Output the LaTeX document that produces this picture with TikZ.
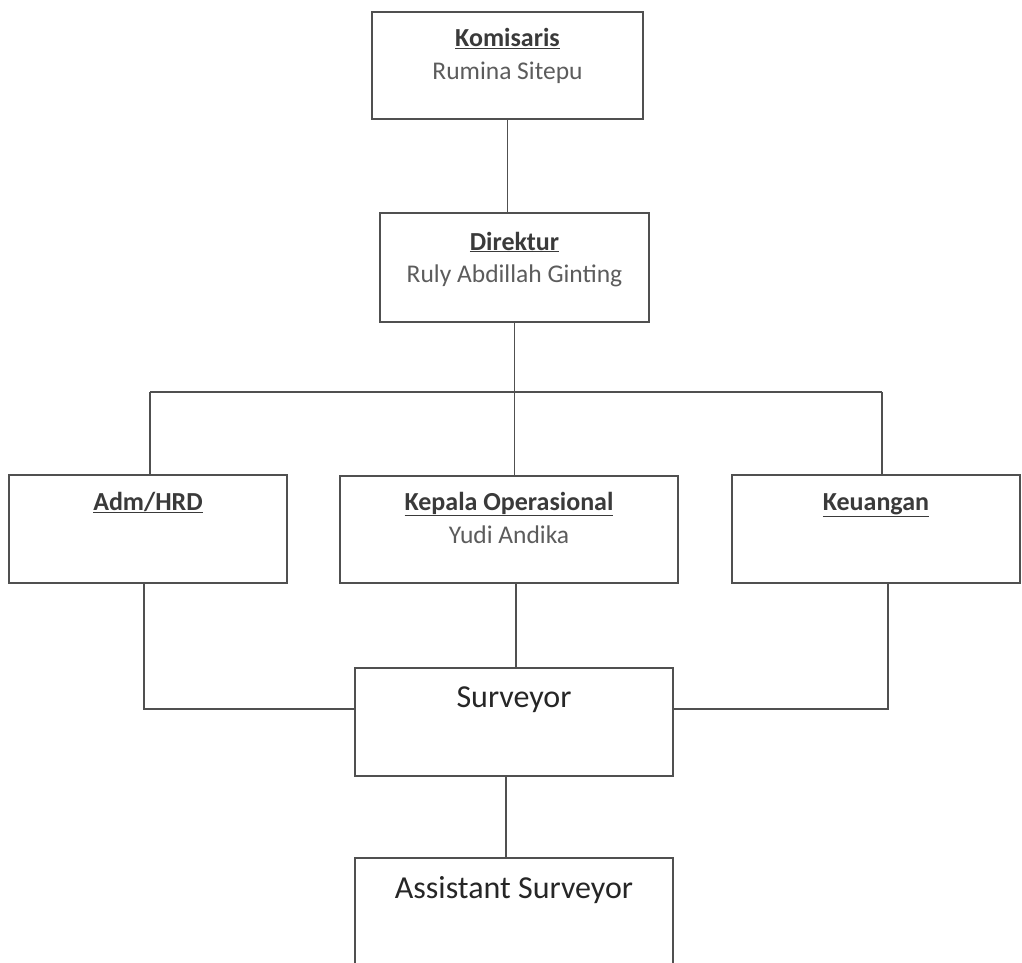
\documentclass[tikz,border=0pt]{standalone}
\usepackage{fontspec}
\setmainfont{Carlito}
\usetikzlibrary{calc}
\definecolor{linec}{HTML}{505050}
\definecolor{titlec}{HTML}{3A3A3A}
\definecolor{namec}{HTML}{5C5C5C}
\definecolor{bigc}{HTML}{262626}
\tikzset{
  box/.style={draw=linec, line width=1.6pt, fill=white, inner sep=0pt},
  conn/.style={draw=linec, line width=1.6pt},
  ttl/.style={anchor=base, text=titlec, inner sep=0pt, font=\fontsize{26}{30}\selectfont},
  nm/.style={anchor=base, text=namec, inner sep=0pt, font=\fontsize{25.5}{30}\selectfont},
  big/.style={anchor=base, text=bigc, inner sep=0pt, font=\fontsize{32}{38}\selectfont}
}
\begin{document}
\begin{tikzpicture}[x=1pt,y=-1pt]
\clip (0,0) rectangle (1022,963);
\fill[white] (0,0) rectangle (1022,963);
% boxes
\node[box, minimum width=271pt, minimum height=107pt] (kom) at (507.5,65.5) {};
\node[box, minimum width=269pt, minimum height=109pt] (dir) at (514.5,267.5) {};
\node[box, minimum width=278pt, minimum height=108pt] (adm) at (148,529) {};
\node[box, minimum width=338pt, minimum height=107pt] (kep) at (509,529.5) {};
\node[box, minimum width=288pt, minimum height=108pt] (keu) at (876,529) {};
\node[box, minimum width=318pt, minimum height=108pt] (sur) at (514,722) {};
\node[box, minimum width=318pt, minimum height=130pt] (ass) at (514,923) {};
% helper coordinates
\coordinate (busL) at (150,392);
\coordinate (busR) at (882,392);
\coordinate (admB) at (144,583);
\coordinate (keuB) at (888,583);
\coordinate (surL) at (355,709);
\coordinate (surR) at (673,709);
\coordinate (surT) at (516,668);
\coordinate (surB) at (506,776);
% connectors
\draw[conn] (kom.south) -- (kom.south |- dir.north);
\draw[conn] (dir.south) -- (dir.south |- kep.north);
\draw[conn] (busL) -- (busR);
\draw[conn] (busL) -- (busL |- adm.north);
\draw[conn] (busR) -- (busR |- keu.north);
\draw[conn] (kep.south -| surT) -- (surT);
\draw[conn] (admB) |- (surL);
\draw[conn] (keuB) |- (surR);
\draw[conn] (surB) -- (surB |- ass.north);
% texts
\node[ttl] (komT) at (507.5,47) {\underline{\textbf{Komisaris}}};
\node[nm] (komN) at (507.5,80) {Rumina Sitepu};
\node[ttl] (dirT) at (514.5,250) {\underline{\textbf{Direktur}}};
\node[nm] (dirN) at (514.5,282) {Ruly Abdillah Ginting};
\node[ttl] (admT) at (148,510) {\underline{\textbf{Adm/HRD}}};
\node[ttl] (kepT) at (509,510) {\underline{\textbf{Kepala Operasional}}};
\node[nm] (kepN) at (509,543) {Yudi Andika};
\node[ttl] (keuT) at (876,510) {\underline{\textbf{Keuangan}}};
\node[big] (surT2) at (514,707) {Surveyor};
\node[big] (assT) at (514,898) {Assistant Surveyor};
\end{tikzpicture}
\end{document}
